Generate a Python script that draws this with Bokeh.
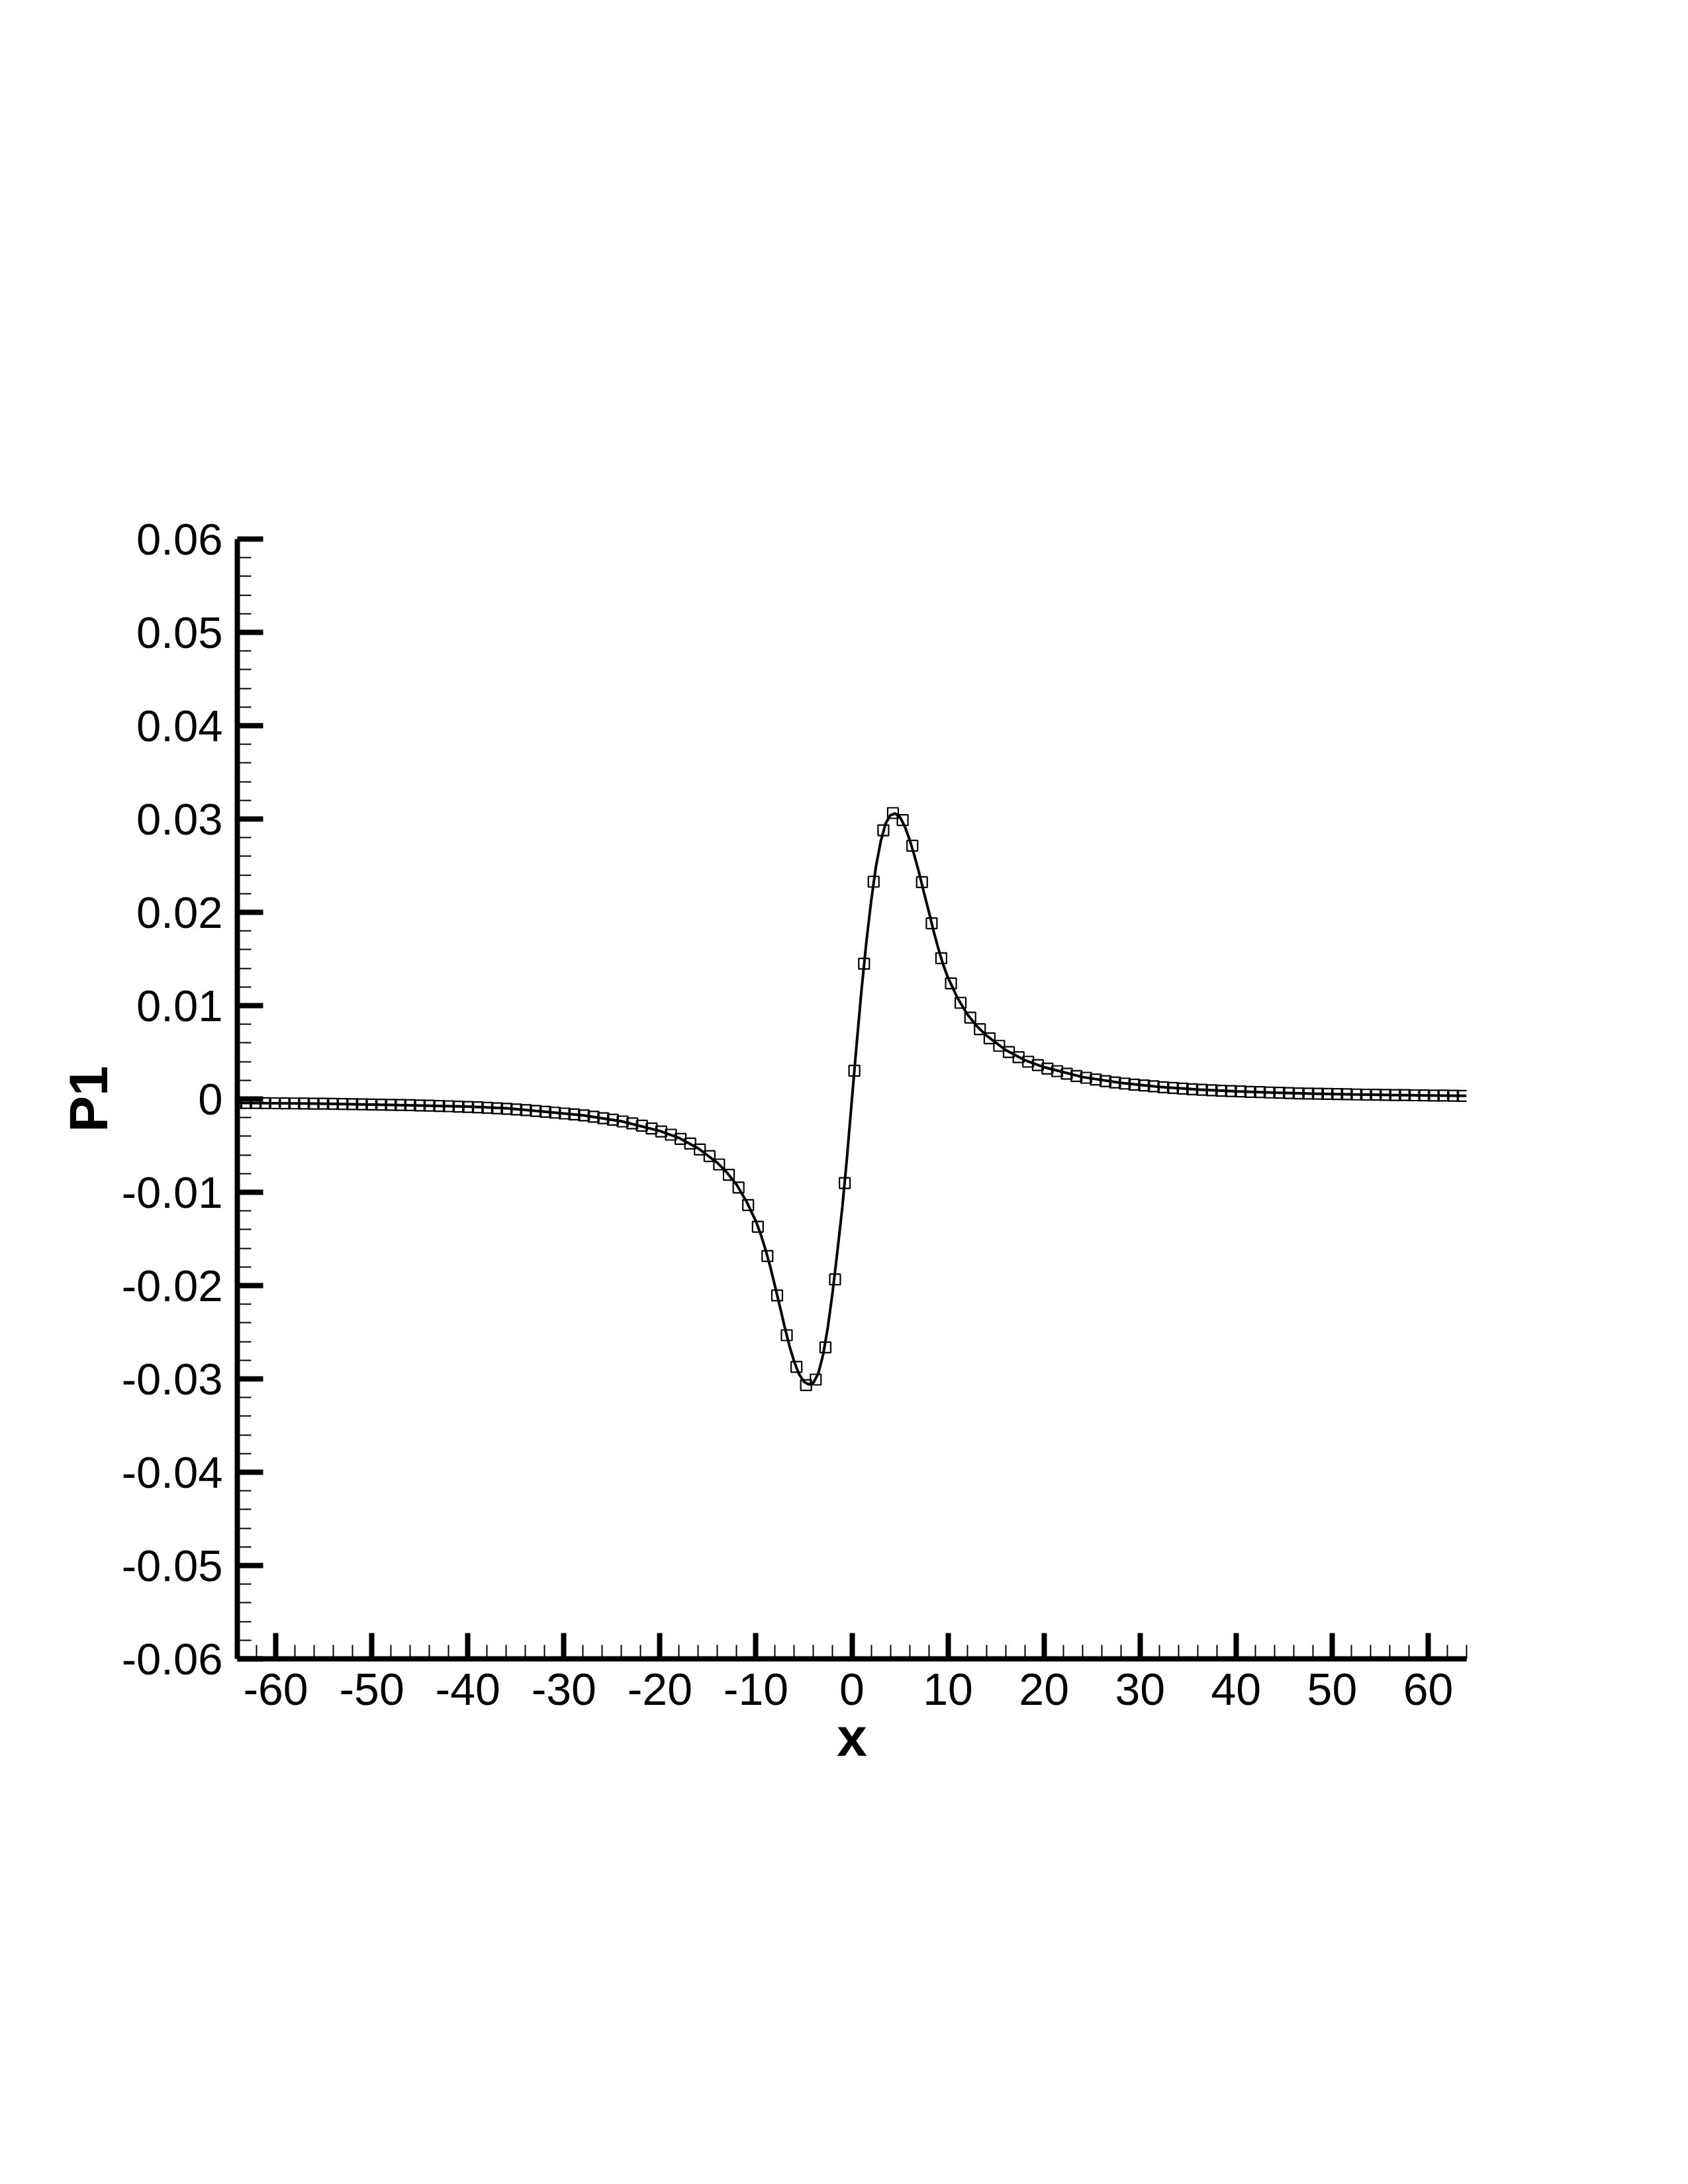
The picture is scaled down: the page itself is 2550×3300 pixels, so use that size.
from bokeh.plotting import figure
from bokeh.models import Range1d, FixedTicker, ColumnDataSource
from bokeh.embed import file_html
from bokeh.resources import INLINE

# ---- data ----
x_markers = [
    -64.10, -63.09, -62.09, -61.08, -60.08, -59.07, -58.07, -57.06, -56.06, -55.05,
    -54.05, -53.04, -52.03, -51.03, -50.02, -49.02, -48.01, -47.01, -46.00, -45.00,
    -43.99, -42.98, -41.98, -40.97, -39.97, -38.96, -37.96, -36.95, -35.95, -34.94,
    -33.94, -32.93, -31.92, -30.92, -29.91, -28.91, -27.90, -26.90, -25.89, -24.89,
    -23.88, -22.87, -21.87, -20.86, -19.86, -18.85, -17.85, -16.84, -15.84, -14.83,
    -13.83, -12.82, -11.81, -10.81, -9.80, -8.80, -7.79, -6.79, -5.78, -4.78,
    -3.77, -2.76, -1.76, -0.75, 0.25, 1.26, 2.26, 3.27, 4.27, 5.28,
    6.29, 7.29, 8.30, 9.30, 10.31, 11.31, 12.32, 13.32, 14.33, 15.33,
    16.34, 17.35, 18.35, 19.36, 20.36, 21.37, 22.37, 23.38, 24.38, 25.39,
    26.40, 27.40, 28.41, 29.41, 30.42, 31.42, 32.43, 33.43, 34.44, 35.44,
    36.45, 37.46, 38.46, 39.47, 40.47, 41.48, 42.48, 43.49, 44.49, 45.50,
    46.51, 47.51, 48.52, 49.52, 50.53, 51.53, 52.54, 53.54, 54.55, 55.55,
    56.56, 57.57, 58.57, 59.58, 60.58, 61.59, 62.59, 63.60,
]
p1_markers = [
    -0.00042, -0.00043, -0.00044, -0.00045, -0.00046, -0.00047, -0.00048, -0.00049, -0.00050, -0.00051,
    -0.00053, -0.00054, -0.00056, -0.00057, -0.00059, -0.00061, -0.00063, -0.00065, -0.00067, -0.00070,
    -0.00072, -0.00075, -0.00078, -0.00082, -0.00086, -0.00090, -0.00095, -0.00100, -0.00106, -0.00113,
    -0.00120, -0.00128, -0.00138, -0.00147, -0.00156, -0.00166, -0.00177, -0.00191, -0.00206, -0.00223,
    -0.00241, -0.00262, -0.00287, -0.00317, -0.00348, -0.00383, -0.00428, -0.00478, -0.00542, -0.00613,
    -0.00702, -0.00813, -0.00950, -0.01137, -0.01369, -0.01684, -0.02106, -0.02532, -0.02872, -0.03067,
    -0.03007, -0.02662, -0.01934, -0.00901, 0.00302, 0.01449, 0.02328, 0.02879, 0.03064, 0.02988,
    0.02713, 0.02323, 0.01882, 0.01508, 0.01238, 0.01030, 0.00872, 0.00747, 0.00650, 0.00569,
    0.00503, 0.00447, 0.00399, 0.00362, 0.00326, 0.00298, 0.00270, 0.00245, 0.00227, 0.00208,
    0.00191, 0.00177, 0.00165, 0.00153, 0.00144, 0.00135, 0.00125, 0.00118, 0.00111, 0.00104,
    0.00098, 0.00093, 0.00088, 0.00084, 0.00080, 0.00076, 0.00073, 0.00069, 0.00066, 0.00063,
    0.00060, 0.00058, 0.00056, 0.00054, 0.00052, 0.00050, 0.00048, 0.00046, 0.00045, 0.00043,
    0.00042, 0.00041, 0.00039, 0.00038, 0.00037, 0.00036, 0.00035, 0.00033,
]

x_line = [
    -64, -60, -56, -52, -48, -44, -40, -36, -32, -28, -24, -20, -18, -16, -14, -13, -12, -11, -10,
    -9.5, -9, -8.5, -8, -7.5, -7, -6.5, -6, -5.5, -5, -4.5, -4, -3.5, -3, -2.5, -2, -1.5, -1, -0.5,
    0, 0.5, 1, 1.5, 2, 2.5, 3, 3.5, 4, 4.5, 5, 5.5, 6, 6.5, 7, 7.5, 8, 8.5, 9, 9.5, 10,
    11, 12, 13, 14, 16, 18, 20, 24, 28, 32, 36, 40, 44, 48, 52, 56, 60, 64,
]
p1_line = [
    -0.00042, -0.00046, -0.00050, -0.00056, -0.00063, -0.00072, -0.00082, -0.00100, -0.00137, -0.00175,
    -0.00239, -0.00343, -0.00418, -0.00530, -0.00685, -0.00790, -0.00920, -0.01095, -0.01310,
    -0.01450, -0.01615, -0.01800, -0.02010, -0.02225, -0.02445, -0.02650, -0.02820, -0.02950, -0.03030,
    -0.03060, -0.03040, -0.02940, -0.02740, -0.02440, -0.02060, -0.01620, -0.01160, -0.00610,
    0.00000, 0.00600, 0.01170, 0.01680, 0.02120, 0.02490, 0.02760, 0.02950, 0.03040, 0.03060,
    0.03020, 0.02920, 0.02780, 0.02610, 0.02420, 0.02210, 0.02010, 0.01800, 0.01610, 0.01440, 0.01300,
    0.01080, 0.00910, 0.00780, 0.00680, 0.00525, 0.00415, 0.00340, 0.00235, 0.00172, 0.00130,
    0.00101, 0.00082, 0.00068, 0.00057, 0.00049, 0.00043, 0.00038, 0.00033,
]

x_ticks = [-60, -50, -40, -30, -20, -10, 0, 10, 20, 30, 40, 50, 60]
x_tick_labels = ["-60", "-50", "-40", "-30", "-20", "-10", "0", "10", "20", "30", "40", "50", "60"]
y_ticks = [-0.06, -0.05, -0.04, -0.03, -0.02, -0.01, 0.0, 0.01, 0.02, 0.03, 0.04, 0.05, 0.06]
y_tick_labels = ["-0.06", "-0.05", "-0.04", "-0.03", "-0.02", "-0.01", "0",
                 "0.01", "0.02", "0.03", "0.04", "0.05", "0.06"]

x_minor = [v * 2 for v in range(-32, 33)]
y_minor = [round(v * 0.002, 3) for v in range(-30, 31)]

FONT = "Liberation Sans"

p = figure(
    width=2542, height=3292,
    x_range=Range1d(-64, 64), y_range=Range1d(-0.06, 0.06),
    output_backend="svg", toolbar_location=None,
    min_border_left=358, min_border_right=327,
    min_border_top=814, min_border_bottom=786,
)
p.background_fill_color = "white"
p.border_fill_color = "white"
p.outline_line_color = None
p.xgrid.visible = False
p.ygrid.visible = False

line_src = ColumnDataSource(dict(x=x_line, y=p1_line))
mark_src = ColumnDataSource(dict(x=x_markers, y=p1_markers))

p.line("x", "y", source=line_src, line_color="black", line_width=4)
p.scatter("x", "y", source=mark_src, marker="square", size=16,
          fill_color=None, line_color="black", line_width=2.2)

xa = p.xaxis[0]
ya = p.yaxis[0]
xa.ticker = FixedTicker(ticks=x_ticks, minor_ticks=x_minor)
ya.ticker = FixedTicker(ticks=y_ticks, minor_ticks=y_minor)
xa.major_label_overrides = {t: s for t, s in zip(x_ticks, x_tick_labels)}
ya.major_label_overrides = {t: s for t, s in zip(y_ticks, y_tick_labels)}

for ax in (xa, ya):
    ax.axis_line_width = 8
    ax.axis_line_color = "black"
    ax.major_tick_in = 39
    ax.major_tick_out = 0
    ax.major_tick_line_width = 8
    ax.major_tick_line_color = "black"
    ax.minor_tick_in = 21
    ax.minor_tick_out = 0
    ax.minor_tick_line_width = 2
    ax.minor_tick_line_color = "black"
    ax.major_label_text_font = FONT
    ax.major_label_text_color = "black"
    ax.axis_label_text_font = FONT
    ax.axis_label_text_font_size = "82px"
    ax.axis_label_text_font_style = "bold"
    ax.axis_label_text_color = "black"

xa.major_label_text_font_size = "68px"
ya.major_label_text_font_size = "67px"
xa.axis_label = "x"
ya.axis_label = "P1"
xa.major_label_standoff = 22
ya.major_label_standoff = 22
xa.axis_label_standoff = 0
ya.axis_label_standoff = 2

open("out.html", "w").write(file_html(p, INLINE))
